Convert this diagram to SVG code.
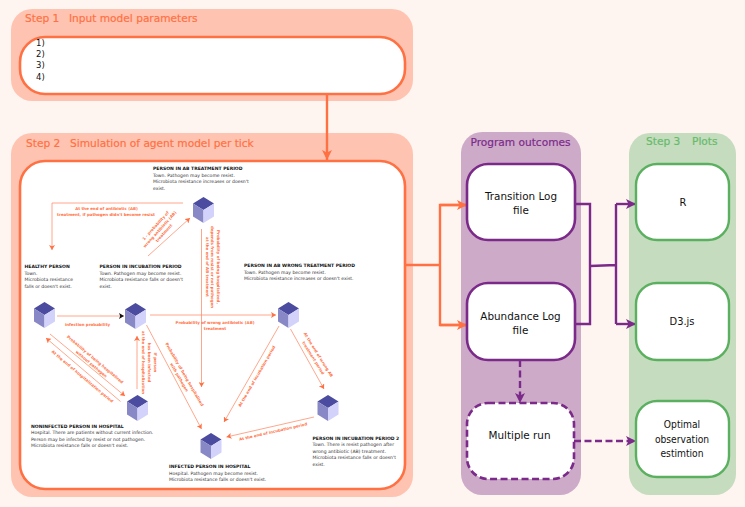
<svg xmlns="http://www.w3.org/2000/svg" width="745" height="507" viewBox="0 0 745 507">
<defs>
<style>
text{font-family:"DejaVu Sans",sans-serif}
.pO{fill:#ffc4b1}.pP{fill:#ceaac9}.pG{fill:#c5dcbf}
.nO{fill:#fff;stroke:#ff7043;stroke-width:2.6}
.nP{fill:#fff;stroke:#7b2a8a;stroke-width:2.6}
.nG{fill:#fff;stroke:#5bb060;stroke-width:2.4}
.dash{stroke-dasharray:7 3.5}
.st{font-size:10.6px;stroke-width:.2}
.l{font-size:10.4px;fill:#111;text-anchor:middle}
.c{font-size:11px;font-family:"DejaVu Sans Condensed","DejaVu Sans",sans-serif;fill:#111;text-anchor:middle}
.o{font-size:10.2px;font-family:"DejaVu Sans Condensed","DejaVu Sans",sans-serif;fill:#111;text-anchor:middle}
.t{font-size:4.55px;fill:#333}
.tb{font-size:4.55px;font-weight:bold;fill:#111}
.e{font-size:3.95px;font-weight:bold;fill:#ff7043;text-anchor:middle}
.thin{fill:none;stroke:#ff8a66;stroke-width:.75}
.thick{fill:none;stroke:#ff7043;stroke-width:2.4}
.pur{fill:none;stroke:#7b2a8a;stroke-width:2.4}
</style>
<marker id="aO" markerUnits="userSpaceOnUse" markerWidth="12" markerHeight="10" refX="10" refY="5" orient="auto"><path d="M0 0L10 5L0 10L2.5 5Z" fill="#ff7043"/></marker>
<marker id="aP" markerUnits="userSpaceOnUse" markerWidth="12" markerHeight="10" refX="10" refY="5" orient="auto"><path d="M0 0L10 5L0 10L2.5 5Z" fill="#7b2a8a"/></marker>
<marker id="aS" markerUnits="userSpaceOnUse" markerWidth="6" markerHeight="6" refX="5" refY="3" orient="auto"><path d="M0 0L5 3L0 6L1.2 3Z" fill="#ff7043"/></marker>
<marker id="aK" markerUnits="userSpaceOnUse" markerWidth="6" markerHeight="6" refX="5" refY="3" orient="auto"><path d="M0 0L5 3L0 6L1.2 3Z" fill="#111"/></marker>
<g id="cube">
<path d="M0 0L10.5 6.5L0 13L-10.5 6.5Z" fill="#4b4b9f"/>
<path d="M-10.5 6.5L0 13V26L-10.5 19.500Z" fill="#8888c6"/>
<path d="M10.5 6.5L0 13V26L10.5 19.500Z" fill="#d2d2fa"/>
</g>
</defs>
<rect width="745" height="507" fill="#fff5f0"/>

<g id="panel-step1"><rect class="pO" x="11" y="9" width="402" height="92" rx="21"/>
<text class="st" x="25" y="22" fill="#ff7043" stroke="#ff7043">Step 1</text><text class="st" x="69" y="22" fill="#ff7043" stroke="#ff7043">Input model parameters</text></g>
<g id="panel-step2"><rect class="pO" x="11" y="133" width="402" height="364" rx="21"/>
<text class="st" x="26" y="147" fill="#ff7043" stroke="#ff7043">Step 2</text><text class="st" x="70" y="147" fill="#ff7043" stroke="#ff7043">Simulation of agent model per tick</text></g>
<g id="panel-outcomes"><rect class="pP" x="461" y="132" width="120" height="363" rx="21"/>
<text class="st" x="520.500" y="146" fill="#7b2a8a" stroke="#7b2a8a" text-anchor="middle">Program outcomes</text></g>
<g id="panel-step3"><rect class="pG" x="629" y="133" width="107" height="362" rx="21"/>
<text class="st" x="646" y="145" fill="#66bb6a" stroke="#66bb6a">Step 3</text><text class="st" x="692" y="145" fill="#66bb6a" stroke="#66bb6a">Plots</text></g>

<g id="node-input"><rect class="nO" x="20" y="37" width="385" height="57" rx="25"/>
<text x="36" y="46" font-size="8.5" fill="#111">1)</text><text x="36" y="57" font-size="8.5" fill="#111">2)</text><text x="36" y="68" font-size="8.5" fill="#111">3)</text><text x="36" y="80" font-size="8.5" fill="#111">4)</text></g>
<g id="node-simulation"><rect class="nO" x="20" y="161" width="385" height="328" rx="25"/></g>

<g id="connectors">
<path class="thick" d="M327 94V160" marker-end="url(#aO)"/>
<path class="thick" d="M405 265H440M467 205H440V325H467"/>
<path class="thick" d="M440 205H467" marker-end="url(#aO)"/>
<path class="thick" d="M440 325H467" marker-end="url(#aO)"/>
<path class="pur" d="M575 204H590V324H575M590 266L616 265M616 204V324"/>
<path class="pur" d="M616 204H636" marker-end="url(#aP)"/>
<path class="pur" d="M616 324H636" marker-end="url(#aP)"/>
<path class="pur dash" d="M520 360V403" marker-end="url(#aP)"/>
<path class="pur dash" d="M574 441H636" marker-end="url(#aP)"/>
<path class="thin" d="M183 203H52V250" marker-end="url(#aS)"/>
<path class="thin" d="M148 256L190 218" marker-end="url(#aS)"/>
<path class="thin" d="M57 316H124" marker-end="url(#aK)"/>
<path class="thin" d="M150 315H276" marker-end="url(#aS)"/>
<path class="thin" d="M201.500 229V387" marker-end="url(#aS)"/>
<path class="thin" d="M279 326L224 422" marker-end="url(#aS)"/>
<path class="thin" d="M290.500 329L324 389" marker-end="url(#aS)"/>
<path class="thin" d="M314 417L226.500 437" marker-end="url(#aS)"/>
<path class="thin" d="M146.500 325L201.500 429" marker-end="url(#aS)"/>
<path class="thin" d="M137 389V336" marker-end="url(#aS)"/>
<path class="thin" d="M50 334L125 396" marker-end="url(#aS)"/>
<path class="thin" d="M120.500 401.500L46 338" marker-end="url(#aS)"/>
</g>

<g id="edge-labels">
<text class="e" x="106.500" y="210">At the end of antibiotic (AB)</text>
<text class="e" x="106" y="215.500">treatment, if pathogen didn't become resist</text>
<g transform="translate(160.500 230) rotate(-48)"><text class="e" y="-5">1 - probability of</text><text class="e" y="0.500">wrong antibiotic (AB)</text><text class="e" y="6">treatment</text></g>
<g transform="translate(211 267) rotate(90)"><text class="e" y="-5.500">Probability of being hospitalized,</text><text class="e" y="0.500">depends from resist or not pathogen</text><text class="e" y="5.500">at the end of AB treatment</text></g>
<text class="e" x="87.500" y="325.500">infection probability</text>
<text class="e" x="215" y="323.500">Probability of wrong antibiotic (AB)</text>
<text class="e" x="215" y="329.500">treatment</text>
<g transform="translate(93 362) rotate(40)"><text class="e" y="-2">Probability of being hospitalized</text><text class="e" y="4">without pathogen</text></g>
<text class="e" transform="translate(81.500 377.500) rotate(40)">At the end of hospitalization period</text>
<g transform="translate(147 362.500) rotate(90)"><text class="e" y="-6.500">If person</text><text class="e" y="-0.500">has been infected</text><text class="e" y="5.500">at the end of hospitalization</text></g>
<g transform="translate(181.500 376) rotate(60)"><text class="e" y="-2">Probability of being hospitalized</text><text class="e" y="4">with pathogen</text></g>
<text class="e" transform="translate(258 377) rotate(-60)">At the end of incubation period</text>
<g transform="translate(315.500 356.500) rotate(58)"><text class="e" y="-2">At the end of wrong AB</text><text class="e" y="4">treatment period</text></g>
<text class="e" transform="translate(273.500 433) rotate(-13)">At the end of incubation period</text>
</g>

<g id="agent-ab"><use href="#cube" x="203.500" y="197"/>
<text class="tb" x="153" y="170">PERSON IN AB TREATMENT PERIOD</text><text class="t" x="153" y="176.500">Town. Pathogen may become resist.</text><text class="t" x="153" y="183">Microbiota resistance increases or doesn't</text><text class="t" x="153" y="189.500">exist.</text></g>
<g id="agent-healthy"><use href="#cube" x="44.500" y="302"/>
<text class="tb" x="24.500" y="268">HEALTHY PERSON</text><text class="t" x="24.500" y="274.500">Town.</text><text class="t" x="24.500" y="281">Microbiota resistance</text><text class="t" x="24.500" y="287.500">falls or doesn't exist.</text></g>
<g id="agent-incubation"><use href="#cube" x="135.500" y="303"/>
<text class="tb" x="99.500" y="268">PERSON IN INCUBATION PERIOD</text><text class="t" x="99.500" y="274.500">Town. Pathogen may become resist.</text><text class="t" x="99.500" y="281">Microbiota resistance falls or doesn't</text><text class="t" x="99.500" y="287.500">exist.</text></g>
<g id="agent-wrong"><use href="#cube" x="288.500" y="302"/>
<text class="tb" x="244" y="267">PERSON IN AB WRONG TREATMENT PERIOD</text><text class="t" x="244" y="273.500">Town. Pathogen may become resist.</text><text class="t" x="244" y="280">Microbiota resistance increases or doesn't exist.</text></g>
<g id="agent-noninfected"><use href="#cube" x="137.500" y="395"/>
<text class="tb" x="31" y="428">NONINFECTED PERSON IN HOSPITAL</text><text class="t" x="31" y="434">Hospital. There are patients without current infection.</text><text class="t" x="31" y="440.500">Person may be infected by resist or not pathogen.</text><text class="t" x="31" y="447">Microbiota resistance falls or doesn't exist.</text></g>
<g id="agent-infected"><use href="#cube" x="211" y="433"/>
<text class="tb" x="169" y="468">INFECTED PERSON IN HOSPITAL</text><text class="t" x="169" y="474.500">Hospital. Pathogen may become resist.</text><text class="t" x="169" y="481">Microbiota resistance falls or doesn't exist.</text></g>
<g id="agent-incubation2"><use href="#cube" x="328" y="395"/>
<text class="tb" x="312.500" y="439.500">PERSON IN INCUBATION PERIOD 2</text><text class="t" x="312.500" y="446">Town. There is resist pathogen after</text><text class="t" x="312.500" y="452.500">wrong antibiotic (AB) treatment.</text><text class="t" x="312.500" y="459">Microbiota resistance falls or doesn't</text><text class="t" x="312.500" y="465.500">exist.</text></g>

<g id="node-transition"><rect class="nP" x="467" y="164" width="108" height="76" rx="21"/><text class="l" x="521" y="200">Transition Log</text><text class="l" x="521" y="214">file</text></g>
<g id="node-abundance"><rect class="nP" x="467" y="283" width="108" height="77" rx="21"/><text class="l" x="520.500" y="320">Abundance Log</text><text class="l" x="520.500" y="334">file</text></g>
<g id="node-multiple"><rect class="nP dash" x="467" y="403" width="107" height="76" rx="21"/><text class="l" x="519.500" y="439">Multiple run</text></g>
<g id="node-r"><rect class="nG" x="636" y="164" width="93" height="76" rx="21"/><text class="c" x="683" y="206">R</text></g>
<g id="node-d3"><rect class="nG" x="636" y="283" width="93" height="77" rx="21"/><text class="c" x="682" y="325">D3.js</text></g>
<g id="node-optimal"><rect class="nG" x="636" y="401" width="93" height="76" rx="21"/><text class="o" x="682" y="428">Optimal</text><text class="o" x="682" y="442.500">observation</text><text class="o" x="682" y="456.500">estimtion</text></g>
</svg>
